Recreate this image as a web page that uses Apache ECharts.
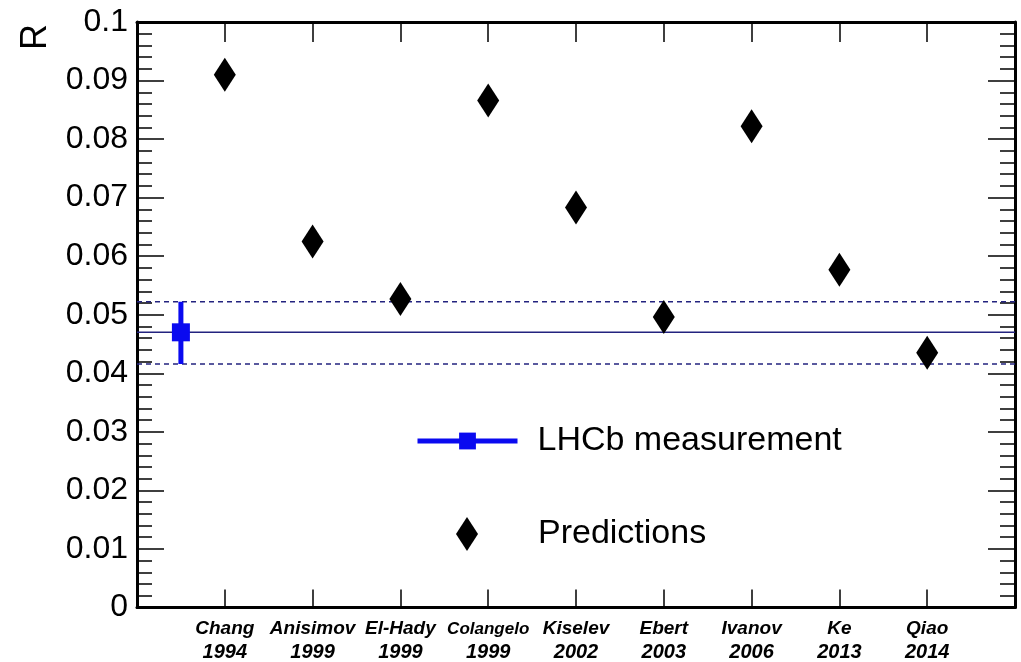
<!DOCTYPE html>
<html>
<head>
<meta charset="utf-8">
<script src="https://cdn.jsdelivr.net/npm/echarts@6/dist/echarts.min.js"></script>
<style>
html,body{margin:0;padding:0;background:#fff;}
#chart{width:1021px;height:662px;}
</style>
</head>
<body>
<div id="chart"></div>
<script>
// ---- data ----
const authors = ['Chang','Anisimov','El-Hady','Colangelo','Kiselev','Ebert','Ivanov','Ke','Qiao'];
const years = ['1994','1999','1999','1999','2002','2003','2006','2013','2014'];
const predictions = [0.0910, 0.0625, 0.0527, 0.0866, 0.0683, 0.0496, 0.0822, 0.0577, 0.0435];
const lhcbValue = 0.0470;
const lhcbLow = 0.0416;
const lhcbHigh = 0.0522;
const lhcbPosition = 0.5;
const yTicks = [0, 0.01, 0.02, 0.03, 0.04, 0.05, 0.06, 0.07, 0.08, 0.09, 0.1];

const predData = predictions.map((v, i) => [i + 1, v]);
const FONT = 'Liberation Sans, Arial, Helvetica, sans-serif';
const BLUE = '#0a0af0';
const NAVY = '#23237f';
const diamond = 'path://M11,0 L22,17 L11,34 L0,17 Z';

const chart = echarts.init(document.getElementById('chart'), null, {renderer: 'canvas'});

function yAxisCommon() {
  return {
    type: 'value', min: 0, max: 0.1, interval: 0.01,
    axisLine: {show: true, onZero: false, lineStyle: {color: '#000', width: 3}},
    axisTick: {show: true, inside: true, length: 27, lineStyle: {color: '#000', width: 1.5}},
    minorTick: {show: true, splitNumber: 5, length: 15, lineStyle: {color: '#000', width: 1.5}},
    splitLine: {show: false}
  };
}

chart.setOption({
  animation: false,
  backgroundColor: '#fff',
  grid: {left: 137, right: 6, top: 22, bottom: 54, containLabel: false},
  xAxis: [
    {
      type: 'value', min: 0, max: 10, interval: 1, position: 'bottom',
      axisLine: {show: true, onZero: false, lineStyle: {color: '#000', width: 3}},
      axisTick: {show: true, inside: true, length: 18, lineStyle: {color: '#000', width: 1.5}},
      splitLine: {show: false},
      axisLabel: {
        show: true, margin: 10, interval: 0, showMinLabel: true, showMaxLabel: true,
        formatter: function (v) {
          const i = Math.round(v) - 1;
          if (i < 0 || i >= authors.length || Math.abs(v - Math.round(v)) > 1e-6) return '';
          const tag = authors[i] === 'Colangelo' ? 's' : 'n';
          return '{' + tag + '|' + authors[i] + '}\n{y|' + years[i] + '}';
        },
        rich: {
          n: {fontFamily: FONT, fontSize: 19, fontWeight: 'bold', fontStyle: 'italic', color: '#000', lineHeight: 23, align: 'center'},
          s: {fontFamily: FONT, fontSize: 17, fontWeight: 'bold', fontStyle: 'italic', color: '#000', lineHeight: 23, align: 'center'},
          y: {fontFamily: FONT, fontSize: 20, fontWeight: 'bold', fontStyle: 'italic', color: '#000', lineHeight: 23, align: 'center'}
        }
      }
    },
    {
      type: 'value', min: 0, max: 10, interval: 1, position: 'top',
      axisLine: {show: true, onZero: false, lineStyle: {color: '#000', width: 3}},
      axisTick: {show: true, inside: true, length: 20, lineStyle: {color: '#000', width: 1.5}},
      axisLabel: {show: false}, splitLine: {show: false}
    }
  ],
  yAxis: [
    Object.assign(yAxisCommon(), {
      position: 'left',
      axisLabel: {
        show: true, margin: 9, fontFamily: FONT, fontSize: 32, color: '#000',
        formatter: function (v) {
          const t = yTicks.find(x => Math.abs(x - v) < 1e-9);
          return t === undefined ? '' : String(+t.toFixed(2));
        }
      }
    }),
    Object.assign(yAxisCommon(), {
      position: 'right',
      axisLabel: {show: false}
    })
  ],
  legend: [
    {
      data: [{name: 'LHCb measurement', lineStyle: {width: 5, color: BLUE}, itemStyle: {color: BLUE}}],
      left: 410, top: 419, orient: 'vertical',
      itemWidth: 100, itemHeight: 21,
      selectedMode: false,
      textStyle: {fontFamily: FONT, fontSize: 34, color: '#000', padding: [0, 0, 0, 15]}
    },
    {
      data: ['Predictions'],
      left: 451, top: 512, orient: 'vertical',
      itemWidth: 22, itemHeight: 34,
      selectedMode: false,
      textStyle: {fontFamily: FONT, fontSize: 34, color: '#000', padding: [0, 0, 0, 55]}
    }
  ],
  graphic: [
    {
      type: 'text', x: 18, y: 50, rotation: Math.PI / 2,
      style: {text: 'R', fontFamily: FONT, fontSize: 36, fill: '#000', align: 'left', verticalAlign: 'top'}
    }
  ],
  series: [
    {
      name: 'central', type: 'line', xAxisIndex: 0, yAxisIndex: 0,
      data: [[0, lhcbValue], [10, lhcbValue]],
      showSymbol: false, symbol: 'none', silent: true,
      lineStyle: {color: NAVY, width: 1.5}, z: 1
    },
    {
      name: 'upper', type: 'line', xAxisIndex: 0, yAxisIndex: 0,
      data: [[0, lhcbHigh], [10, lhcbHigh]],
      symbol: 'none', silent: true,
      lineStyle: {color: NAVY, width: 1.5, type: [5, 4]}, z: 1
    },
    {
      name: 'lower', type: 'line', xAxisIndex: 0, yAxisIndex: 0,
      data: [[0, lhcbLow], [10, lhcbLow]],
      symbol: 'none', silent: true,
      lineStyle: {color: NAVY, width: 1.5, type: [5, 4]}, z: 1
    },
    {
      name: 'LHCb measurement', type: 'line', xAxisIndex: 0, yAxisIndex: 0,
      symbol: 'rect', symbolSize: 18, showSymbol: true, silent: true,
      data: [
        {value: [lhcbPosition, lhcbLow], symbol: 'none'},
        {value: [lhcbPosition, lhcbValue]},
        {value: [lhcbPosition, lhcbHigh], symbol: 'none'}
      ],
      lineStyle: {color: BLUE, width: 5}, itemStyle: {color: BLUE}, z: 3
    },
    {
      name: 'Predictions', type: 'scatter', xAxisIndex: 0, yAxisIndex: 0,
      symbol: diamond, symbolSize: [22, 34], silent: true,
      data: predData,
      itemStyle: {color: '#000', opacity: 1}, z: 4
    }
  ]
});
</script>
</body>
</html>
